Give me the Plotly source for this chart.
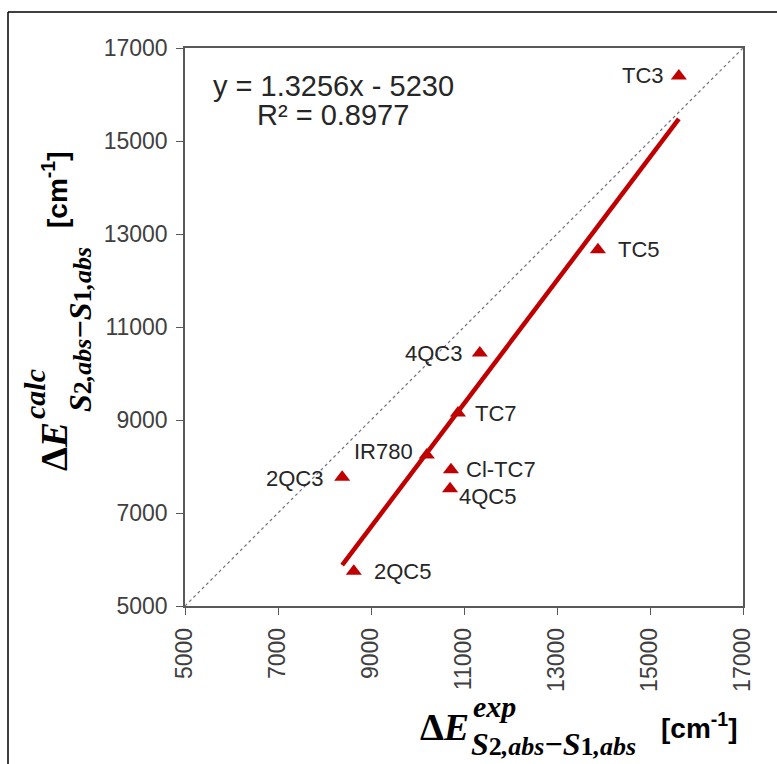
import plotly.graph_objects as go

names = ["TC3", "TC5", "4QC3", "TC7", "IR780", "Cl-TC7", "4QC5", "2QC3", "2QC5"]
exp_vals = [15620, 13880, 11340, 10870, 10200, 10720, 10700, 8380, 8630]
calc_vals = [16400, 12660, 10440, 9150, 8250, 7930, 7520, 7770, 5750]
slope = 1.3256
intercept = -5230
axis_range = [5000, 17000]
tick_vals = [5000, 7000, 9000, 11000, 13000, 15000, 17000]
tick_text = ["5000", "7000", "9000", "11000", "13000", "15000", "17000"]

# label placement: (anchor side, x shift px, y shift px)
label_pos = {
    "TC3": ("right", -13, 0), "TC5": ("left", 18, 0), "4QC3": ("right", -16, 0),
    "TC7": ("left", 15, 0), "IR780": ("right", -12, 3), "Cl-TC7": ("left", 13, 0),
    "4QC5": ("left", 7, -8), "2QC3": ("right", -17, -1), "2QC5": ("left", 18, 0),
}

RED = "#C00000"
fig = go.Figure()

fig.add_trace(go.Scatter(x=axis_range, y=axis_range, mode="lines",
                         line=dict(color="#707080", width=1.2, dash="dot"),
                         hoverinfo="skip", showlegend=False))
tx = [min(exp_vals), max(exp_vals)]
ty = [slope * v + intercept for v in tx]
fig.add_trace(go.Scatter(x=tx, y=ty, mode="lines",
                         line=dict(color=RED, width=4.5), showlegend=False))
fig.add_trace(go.Scatter(x=exp_vals, y=calc_vals, mode="markers",
                         marker=dict(symbol="triangle-up", size=14, color=RED),
                         showlegend=False))

sans = "Liberation Sans, Arial"
annotations = []
for n, xv, yv in zip(names, exp_vals, calc_vals):
    side, dx, dy = label_pos[n]
    annotations.append(dict(x=xv, y=yv, xref="x", yref="y", text=n, showarrow=False,
                            xanchor=side, yanchor="middle", xshift=dx, yshift=dy,
                            font=dict(family=sans, size=22, color="#262626")))


def px(x):
    return (x - 185) / 558


def py(y):
    return (606 - y) / 558


eq_font = dict(family=sans, size=29, color="#262626")
annotations.append(dict(x=px(333), y=py(86), xref="paper", yref="paper", xanchor="center",
                        yanchor="middle", text="y = 1.3256x - 5230", showarrow=False, font=eq_font))
annotations.append(dict(x=px(333), y=py(115), xref="paper", yref="paper", xanchor="center",
                        yanchor="middle", text="R² = 0.8977", showarrow=False, font=eq_font))

serif = "Liberation Serif, DejaVu Serif, serif"
big = dict(family=serif, size=38, color="black")
sup = dict(family=serif, size=30, color="black")
sub = dict(family=serif, size=32, color="black")
unit = dict(family=sans, size=28, color="black")

sm = "<span style='font-size:26px'>"
sub_text = ("<b><i>S</i>" + sm + "2<i>,abs</i></span>−<i>S</i>" + sm + "1<i>,abs</i></span></b>")

annotations += [
    dict(x=px(444), y=py(727), text="<b>Δ<i>E</i></b>", font=big),
    dict(x=px(494), y=py(706), text="<b><i>exp</i></b>", font=sup),
    dict(x=px(553), y=py(744), text=sub_text, font=sub),
    dict(x=px(699), y=py(726), text="<b>[cm<sup>-1</sup>]</b>", font=unit),
    dict(x=px(54), y=py(447), text="<b>Δ<i>E</i></b>", font=big, textangle=-90),
    dict(x=px(34), y=py(394), text="<b><i>calc</i></b>", font=sup, textangle=-90),
    dict(x=px(80), y=py(330), text=sub_text, font=sub, textangle=-90),
    dict(x=px(55), y=py(190), text="<b>[cm<sup>-1</sup>]</b>", font=unit, textangle=-90),
]
for a in annotations[-8:]:
    a.update(xref="paper", yref="paper", showarrow=False, xanchor="center", yanchor="middle")

axis_common = dict(range=axis_range, tickvals=tick_vals, ticktext=tick_text,
                   showgrid=False, zeroline=False,
                   showline=True, linecolor="#595959", linewidth=1.5, mirror=True,
                   ticks="outside", ticklen=7, tickcolor="#595959", tickwidth=1.2,
                   ticklabelstandoff=4,
                   tickfont=dict(family=sans, size=23, color="#404040"))

fig.update_layout(
    width=777, height=764,
    margin=dict(l=185, r=34, t=48, b=158),
    paper_bgcolor="white", plot_bgcolor="white",
    xaxis=dict(**axis_common, tickangle=-90),
    yaxis=dict(**axis_common),
    annotations=annotations,
    shapes=[
        dict(type="line", xref="paper", yref="paper", x0=px(8), x1=px(8), y0=py(800), y1=py(12),
             line=dict(color="black", width=1.5)),
        dict(type="line", xref="paper", yref="paper", x0=px(8), x1=px(800), y0=py(12), y1=py(12),
             line=dict(color="black", width=1.5)),
    ],
)

fig.write_html("out.html")
